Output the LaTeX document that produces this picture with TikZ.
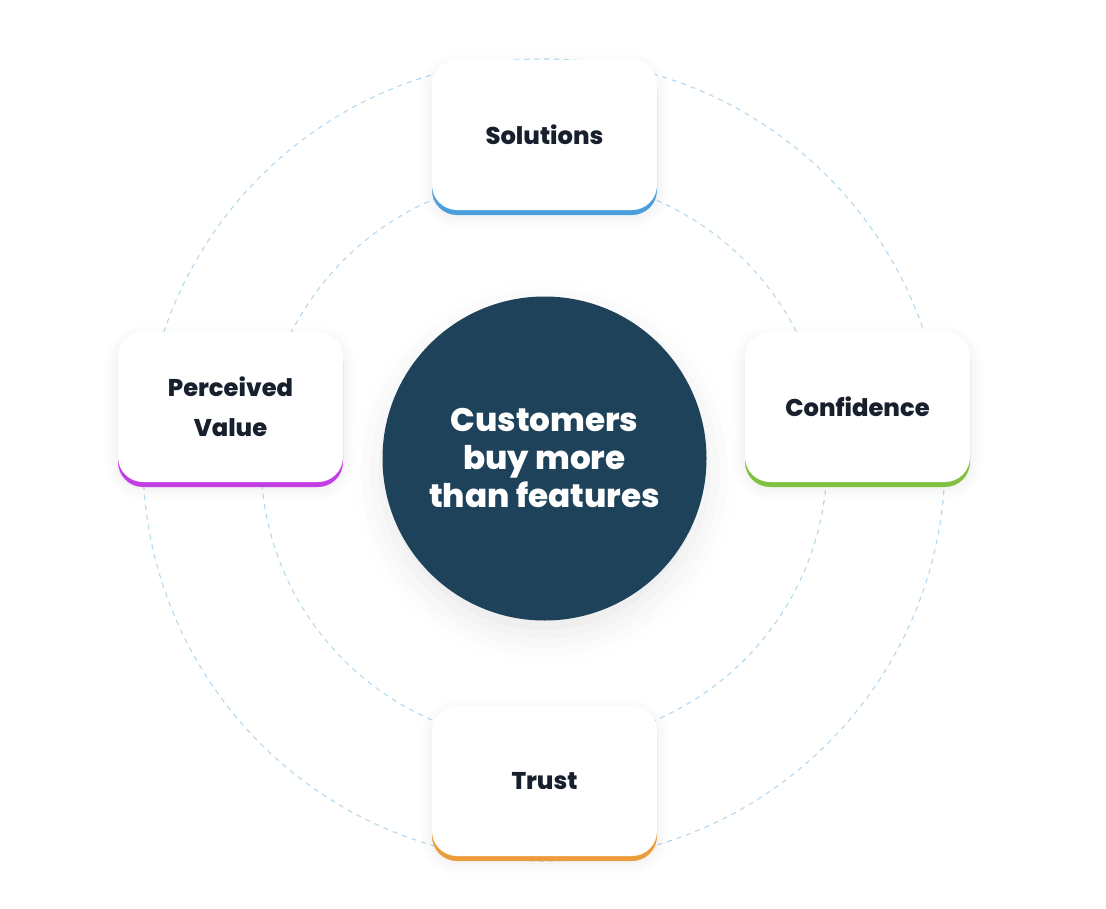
\documentclass[tikz,border=0pt]{standalone}
\usepackage{fontspec}
\setmainfont{Poppins}[BoldFont={Poppins ExtraBold}]
\usetikzlibrary{shadows.blur}
\definecolor{navy}{HTML}{1D4259}
\definecolor{ink}{HTML}{18202E}
\definecolor{dashc}{HTML}{B3D8F0}
\definecolor{cblue}{HTML}{4A9EDE}
\definecolor{cpurple}{HTML}{C43FE3}
\definecolor{cgreen}{HTML}{80C142}
\definecolor{corange}{HTML}{EC9C3A}
\tikzset{
  ring/.style={draw=dashc, line width=1.1pt, dash pattern=on 5pt off 5pt},
  card/.style={rounded corners=25pt, minimum width=225pt, minimum height=150pt,
    fill=white, inner sep=0pt, align=center, text=ink,
    font=\fontsize{24.2}{40}\selectfont\bfseries,
    blur shadow={shadow xshift=0pt, shadow yshift=-6pt, shadow blur radius=14pt, shadow opacity=9},
    preaction={fill=#1, transform canvas={yshift=-5pt}}},
  hub/.style={circle, fill=navy, minimum size=324pt, inner sep=0pt, align=center,
    text=white, font=\fontsize{32.6}{38}\selectfont\bfseries,
    blur shadow={shadow xshift=0pt, shadow yshift=-14pt, shadow blur radius=30pt, shadow opacity=9}}
}
\begin{document}
\begin{tikzpicture}[x=1pt,y=-1pt]
\useasboundingbox (0,0) rectangle (1106,908);
\coordinate (c) at (544,460);
\draw[ring] (c) circle[radius=401];
\draw[ring] (c) circle[radius=283];
\node[hub] (hub) at (544.5,458.5) {Customers\\buy more\\than features};
\node[card=cblue] (sol) at (544.5,135) {Solutions};
\node[card=cpurple] (pv) at (230.5,407) {Perceived\\Value};
\node[card=cgreen] (conf) at (857.5,407) {Confidence};
\node[card=corange] (trust) at (544.5,781) {Trust};
\end{tikzpicture}
\end{document}
